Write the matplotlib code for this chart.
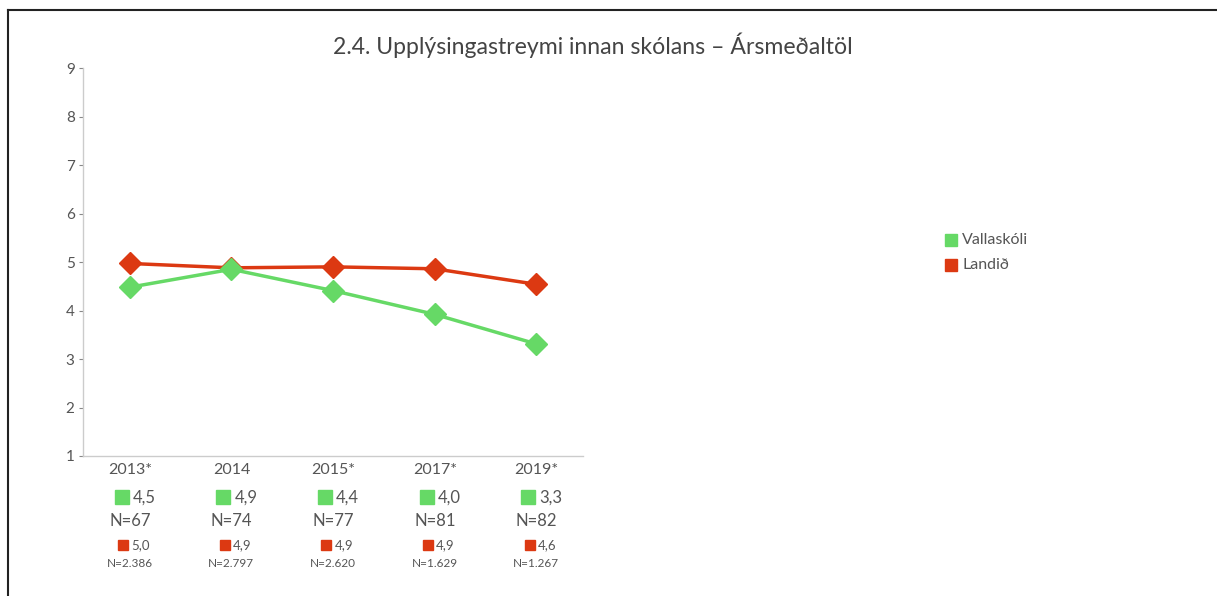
import matplotlib
matplotlib.use("Agg")
import matplotlib.pyplot as plt
import matplotlib.transforms as mtransforms
from matplotlib.lines import Line2D

plt.rcParams['font.family'] = ['Lato', 'DejaVu Sans']

years = ['2013*', '2014', '2015*', '2017*', '2019*']
school = [4.48, 4.85, 4.41, 3.92, 3.31]
country = [4.97, 4.88, 4.90, 4.86, 4.54]
school_lbl = ['4,5', '4,9', '4,4', '4,0', '3,3']
country_lbl = ['5,0', '4,9', '4,9', '4,9', '4,6']
school_n = ['N=67', 'N=74', 'N=77', 'N=81', 'N=82']
country_n = ['N=2.386', 'N=2.797', 'N=2.620', 'N=1.629', 'N=1.267']
names = ['Vallaskóli', 'Landið']

green = '#66d966'
red = '#dc3912'
grey = '#555555'

fig = plt.figure(figsize=(12.17, 5.96), dpi=100)
ax = fig.add_axes([0.0682, 0.2349, 0.411, 0.651])

x = list(range(len(years)))
ax.plot(x, country, color=red, lw=2.5, marker='D', ms=11, zorder=3)
ax.plot(x, school, color=green, lw=2.5, marker='D', ms=11, zorder=4)

ax.set_xlim(-0.46, 4.46)
ax.set_ylim(1, 9)
ax.set_yticks(range(1, 10))
ax.set_xticks([])
for s in ['top', 'right']:
    ax.spines[s].set_visible(False)
for s in ['left', 'bottom']:
    ax.spines[s].set_color('#cccccc')
    ax.spines[s].set_linewidth(1)
ax.tick_params(axis='y', colors='#888888', length=3, width=0.8, pad=3, labelsize=11)
for t in ax.get_yticklabels():
    t.set_color(grey)

# table under the axis
tr = mtransforms.blended_transform_factory(ax.transData, ax.transAxes)
for i in x:
    ax.text(i, -0.036, years[i], transform=tr, ha='center', va='center', fontsize=11.5, color=grey)
    ax.plot([i - 0.08], [-0.106], transform=tr, marker='s', ms=9.5, color=green, clip_on=False, ls='none')
    ax.text(i + 0.03, -0.106, school_lbl[i], transform=tr, ha='left', va='center', fontsize=12, color=grey)
    ax.text(i, -0.168, school_n[i], transform=tr, ha='center', va='center', fontsize=12, color=grey)
    ax.plot([i - 0.065], [-0.229], transform=tr, marker='s', ms=7, color=red, clip_on=False, ls='none')
    ax.text(i + 0.015, -0.229, country_lbl[i], transform=tr, ha='left', va='center', fontsize=9.5, color=grey)
    ax.text(i, -0.276, country_n[i], transform=tr, ha='center', va='center', fontsize=8.5, color=grey)

fig.text(593 / 1217, 1 - 45 / 596, '2.4. Upplýsingastreymi innan skólans – Ársmeðaltöl',
         ha='center', va='center', fontsize=16.6, color='#444444')

# legend
for k, (nm, c) in enumerate(zip(names, [green, red])):
    yy = 1 - (240 + 25 * k) / 596
    fig.add_artist(Line2D([951 / 1217], [yy], marker='s', ms=9, color=c, ls='none',
                          transform=fig.transFigure))
    fig.text(962 / 1217, yy, nm, ha='left', va='center', fontsize=11.5, color=grey)

# outer frame
fig.add_artist(Line2D([8 / 1217, 8 / 1217], [0, 1 - 10 / 596], color='#222222', lw=1.5,
                      transform=fig.transFigure))
fig.add_artist(Line2D([8 / 1217, 1], [1 - 10 / 596, 1 - 10 / 596], color='#222222', lw=1.5,
                      transform=fig.transFigure))

fig.savefig('out.png', dpi=100)
